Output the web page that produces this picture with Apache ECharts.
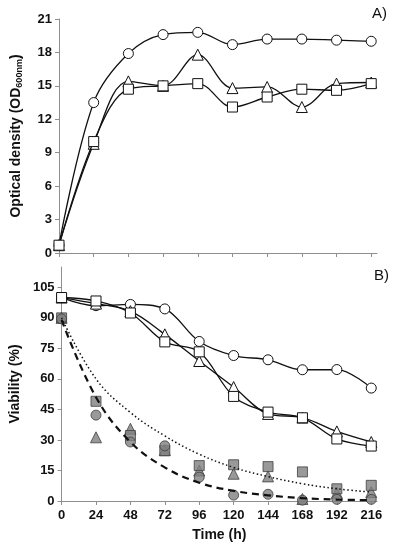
<!DOCTYPE html>
<html><head><meta charset="utf-8">
<script src="https://cdn.jsdelivr.net/npm/echarts@6/dist/echarts.min.js"></script>
<style>html,body{margin:0;padding:0;background:#fff}#c{width:399px;height:550px}</style>
</head><body><div id="c"></div>
<script>
const times = [0, 24, 48, 72, 96, 120, 144, 168, 192, 216];
const xTicks = [0, 24, 48, 72, 96, 120, 144, 168, 192, 216];
const odTicks = [0, 3, 6, 9, 12, 15, 18, 21];
const viaTicks = [0, 15, 30, 45, 60, 75, 90, 105];

// Panel A: optical density
const odCircle   = [0.7, 13.5, 17.9, 19.6, 19.8, 18.7, 19.2, 19.2, 19.1, 19.0];
const odTriangle = [0.7, 9.8, 15.4, 15.0, 17.8, 14.8, 14.9, 13.1, 15.2, 15.3];
const odSquare   = [0.7, 10.0, 14.7, 15.0, 15.2, 13.1, 14.0, 14.7, 14.6, 15.2];

// Panel B: viability
const viaCircle   = [100, 96.0, 96.6, 94.4, 78.4, 71.5, 69.4, 64.5, 64.6, 55.5];
const viaSquare   = [100, 98.3, 92.4, 78.2, 73.3, 51.4, 43.7, 40.9, 30.5, 27.0];
const viaTriangle = [100, 97.0, 93.3, 81.9, 68.8, 56.0, 42.8, 41.0, 34.2, 29.0];
const grayCircle   = [89.5, 42.2, 29.0, 27.1, 11.7, 2.9, 3.3, 0.4, 0.8, 0.8];
const graySquare   = [90, 49.0, 32.2, 24.7, 17.4, 17.8, 16.9, 14.3, 6.0, 7.7];
const grayTriangle = [90, 31.3, 35.5, 25.0, 15.0, 13.4, 12.1, 1.0, 4.0, 4.4];
const dottedFit = [90, 60, 43.5, 32, 23, 16.5, 12, 8.5, 6, 4.4];
const dashedFit = [89, 51, 29, 16.5, 9, 5, 2.8, 1.4, 0.7, 0.4];

const pts = arr => times.map((t, i) => [t, arr[i]]);
const FONT = '"Liberation Sans", Arial, sans-serif';
const AX = '#8f8f8f';

function xAxis(gridIndex, showLabels) {
  return {
    type: 'value', gridIndex, min: 0, max: 220, interval: 24,
    axisLine: { show: true, lineStyle: { color: AX, width: 1 } },
    axisTick: { show: true, length: 4, lineStyle: { color: AX }, customValues: xTicks },
    axisLabel: { show: showLabels, customValues: xTicks, color: '#111', fontWeight: 'bold', fontSize: 13, fontFamily: FONT, margin: 8 },
    splitLine: { show: false },
    name: showLabels ? 'Time (h)' : '', nameLocation: 'middle', nameGap: 27,
    nameTextStyle: { color: '#111', fontWeight: 'bold', fontSize: 14, fontFamily: FONT }
  };
}
function yAxis(gridIndex, max, interval, ticks, name, gap) {
  return {
    type: 'value', gridIndex, min: 0, max, interval,
    axisLine: { show: true, lineStyle: { color: AX, width: 1 } },
    axisTick: { show: true, length: 4, lineStyle: { color: AX }, customValues: ticks },
    axisLabel: { customValues: ticks, color: '#111', fontWeight: 'bold', fontSize: 13, fontFamily: FONT, margin: 7 },
    splitLine: { show: false },
    name, nameLocation: 'middle', nameGap: gap, nameRotate: 90,
    nameTextStyle: {
      color: '#111', fontWeight: 'bold', fontSize: 14, fontFamily: FONT,
      rich: {
        a: { color: '#111', fontWeight: 'bold', fontSize: 14, fontFamily: FONT },
        b: { color: '#111', fontWeight: 'bold', fontSize: 9, fontFamily: FONT, verticalAlign: 'bottom', padding: [7, 0, 0, 0] }
      }
    }
  };
}
function openLine(data, sym, xi, yi, z) {
  return {
    type: 'line', xAxisIndex: xi, yAxisIndex: yi, data: pts(data), smooth: 0.35,
    symbol: sym, symbolSize: sym === 'triangle' ? 11 : 10, z,
    lineStyle: { color: '#111', width: 1.3 },
    itemStyle: { color: '#fff', borderColor: '#111', borderWidth: 1 },
    emphasis: { disabled: true }
  };
}
function grayPts(data, sym, z) {
  return {
    type: 'scatter', xAxisIndex: 1, yAxisIndex: 1, data: pts(data), symbol: sym,
    symbolSize: sym === 'triangle' ? 11 : 10, z,
    itemStyle: { color: '#808080', borderColor: '#3f3f3f', borderWidth: 1 },
    emphasis: { disabled: true }
  };
}
function fitLine(data, type, width) {
  return {
    type: 'line', xAxisIndex: 1, yAxisIndex: 1, data: pts(data), smooth: 0.4,
    symbol: 'none', z: 6,
    lineStyle: { color: '#111', width, type },
    emphasis: { disabled: true }
  };
}

const chart = echarts.init(document.getElementById('c'), null, { renderer: 'canvas' });
chart.setOption({
  animation: false,
  backgroundColor: '#fff',
  grid: [
    { left: 59, right: 22, top: 19, height: 234 },
    { left: 59, right: 22, top: 267, height: 234 }
  ],
  xAxis: [xAxis(0, false), xAxis(1, true)],
  yAxis: [
    yAxis(0, 21, 3, odTicks, '{a|Optical density (OD}{b|600nm}{a|)}', 35),
    yAxis(1, 115, 15, viaTicks, 'Viability (%)', 33)
  ],
  graphic: [
    { type: 'text', left: 372, top: 6, style: { text: 'A)', fontSize: 15, fontFamily: FONT, fill: '#111' } },
    { type: 'text', left: 374, top: 268, style: { text: 'B)', fontSize: 15, fontFamily: FONT, fill: '#111' } }
  ],
  series: [
    openLine(odCircle, 'circle', 0, 0, 3),
    openLine(odTriangle, 'triangle', 0, 0, 4),
    openLine(odSquare, 'rect', 0, 0, 5),
    grayPts(grayTriangle, 'triangle', 2),
    grayPts(graySquare, 'rect', 3),
    grayPts(grayCircle, 'circle', 4),
    fitLine(dottedFit, [1.5, 2.5], 1.5),
    fitLine(dashedFit, [7, 5], 2.2),
    openLine(viaCircle, 'circle', 1, 1, 7),
    openLine(viaTriangle, 'triangle', 1, 1, 8),
    openLine(viaSquare, 'rect', 1, 1, 9)
  ]
});
</script>
</body></html>
